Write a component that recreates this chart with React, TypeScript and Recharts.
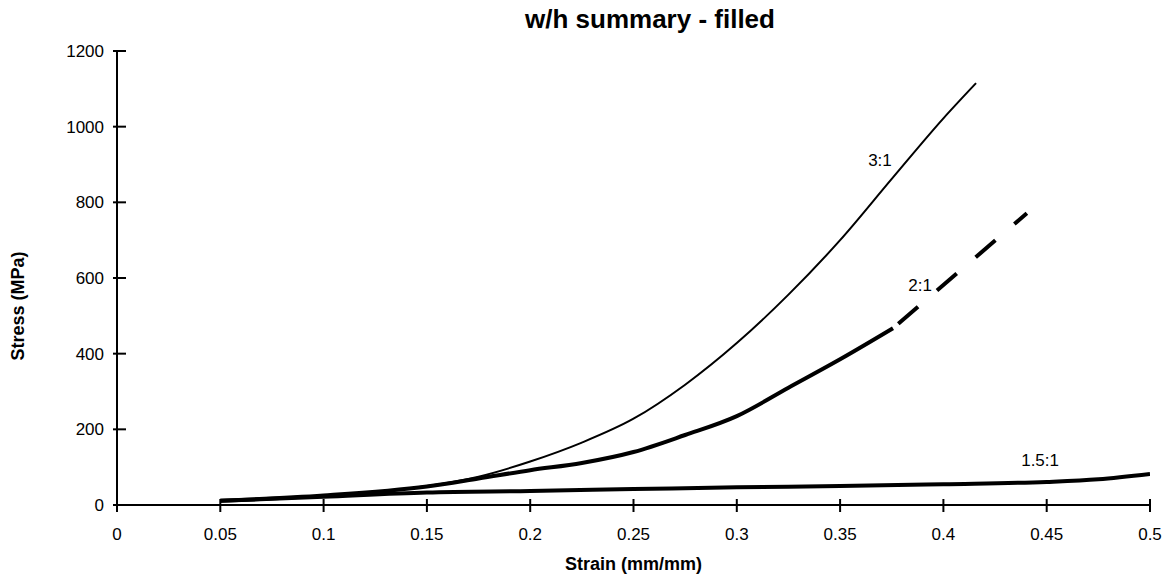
import React from "react";
import { LineChart, Line, XAxis, YAxis, ReferenceDot, Label } from "recharts";

// strain (mm/mm) vs stress (MPa)
const strain31 = [0.05, 0.1, 0.15, 0.175, 0.2, 0.225, 0.25, 0.275, 0.3, 0.325, 0.35, 0.375, 0.4, 0.4158];
const stress31 = [11, 25, 50, 75, 115, 165, 228, 318, 428, 556, 700, 862, 1022, 1115];

const strain21 = [0.05, 0.1, 0.15, 0.175, 0.2, 0.225, 0.25, 0.275, 0.3, 0.325, 0.35, 0.3756];
const stress21 = [11, 25, 49, 70, 92, 111, 140, 185, 235, 310, 385, 467];

const strain21Dash = [0.3756, 0.4404];
const stress21Dash = [467, 771];

const strain151 = [0.05, 0.1, 0.15, 0.2, 0.25, 0.3, 0.35, 0.4, 0.45, 0.475, 0.5];
const stress151 = [11, 22, 33, 37, 42, 47, 50, 55, 61, 68, 82];

const xTicks = [0, 0.05, 0.1, 0.15, 0.2, 0.25, 0.3, 0.35, 0.4, 0.45, 0.5];
const yTicks = [0, 200, 400, 600, 800, 1000, 1200];

const seriesLabels = [
  { text: "3:1", x: 0.3693, y: 911 },
  { text: "2:1", x: 0.3887, y: 581 },
  { text: "1.5:1", x: 0.4468, y: 119 },
];

const toPoints = (xs: number[], ys: number[]) => xs.map((x, i) => ({ x, y: ys[i] }));

const FONT = "Arial, 'Liberation Sans', sans-serif";

function XTick(props: any) {
  const { x, y, payload } = props;
  return (
    <g>
      <line x1={x} x2={x} y1={y - 6} y2={y + 7} stroke="#000" strokeWidth={2} />
      <text x={x} y={y + 35} textAnchor="middle" fontSize={17} fontFamily={FONT} fill="#000">
        {String(payload.value)}
      </text>
    </g>
  );
}

function YTick(props: any) {
  const { x, y, payload } = props;
  return (
    <g>
      <line x1={x - 4} x2={x + 9} y1={y} y2={y} stroke="#000" strokeWidth={2} />
      <text x={x - 13} y={y} dy="0.35em" textAnchor="end" fontSize={17} fontFamily={FONT} fill="#000">
        {String(payload.value)}
      </text>
    </g>
  );
}

export default function App() {
  return (
    <div style={{ position: "absolute", left: 0, top: 0, width: 1173, height: 577, background: "#fff" }}>
      <div
        style={{
          position: "absolute",
          left: 0,
          width: 1300,
          top: 4,
          textAlign: "center",
          fontFamily: FONT,
          fontWeight: "bold",
          fontSize: 26,
          color: "#000",
        }}
      >
        w/h summary - filled
      </div>
      <LineChart width={1173} height={577} margin={{ top: 51, right: 23, bottom: 42, left: 57 }}>
        <XAxis
          type="number"
          dataKey="x"
          domain={[0, 0.5]}
          ticks={xTicks}
          interval={0}
          height={30}
          tickSize={0}
          tickMargin={0}
          tickLine={false}
          tick={<XTick />}
          axisLine={{ stroke: "#000", strokeWidth: 2 }}
          allowDataOverflow
        >
          <Label
            value="Strain (mm/mm)"
            position="bottom"
            offset={22}
            style={{ fontFamily: FONT, fontWeight: "bold", fontSize: 18, fill: "#000" }}
          />
        </XAxis>
        <YAxis
          type="number"
          domain={[0, 1200]}
          ticks={yTicks}
          interval={0}
          width={60}
          tickSize={0}
          tickMargin={0}
          tickLine={false}
          tick={<YTick />}
          axisLine={{ stroke: "#000", strokeWidth: 2 }}
        >
          <Label
            value="Stress (MPa)"
            angle={-90}
            position="left"
            offset={39}
            dy={28}
            style={{ fontFamily: FONT, fontWeight: "bold", fontSize: 18, fill: "#000", textAnchor: "middle" }}
          />
        </YAxis>
        <Line
          data={toPoints(strain151, stress151)}
          dataKey="y"
          type="monotone"
          stroke="#000"
          strokeWidth={4}
          dot={false}
          isAnimationActive={false}
        />
        <Line
          data={toPoints(strain21, stress21)}
          dataKey="y"
          type="monotone"
          stroke="#000"
          strokeWidth={4}
          dot={false}
          isAnimationActive={false}
        />
        <Line
          data={toPoints(strain21Dash, stress21Dash)}
          dataKey="y"
          type="linear"
          stroke="#000"
          strokeWidth={4}
          strokeDasharray="0 7 26 25 26 25 26 25 26 20"
          dot={false}
          isAnimationActive={false}
        />
        <Line
          data={toPoints(strain31, stress31)}
          dataKey="y"
          type="monotone"
          stroke="#000"
          strokeWidth={2}
          dot={false}
          isAnimationActive={false}
        />
        {seriesLabels.map((l) => (
          <ReferenceDot
            key={l.text}
            x={l.x}
            y={l.y}
            r={0}
            fill="none"
            stroke="none"
            label={{
              value: l.text,
              position: "center",
              style: { fontFamily: FONT, fontSize: 17, fill: "#000" },
            }}
          />
        ))}
      </LineChart>
    </div>
  );
}
